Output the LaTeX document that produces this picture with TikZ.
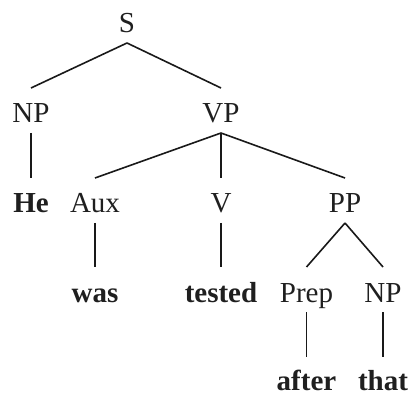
\documentclass[tikz,border=0pt]{standalone}
\usepackage{fontspec}
\setmainfont{Liberation Serif}
\begin{document}
\begin{tikzpicture}[x=1pt,y=1pt,
  lab/.style={anchor=base,inner sep=0pt,font=\fontsize{29}{30}\selectfont,text=black!88},
  word/.style={lab,font=\fontsize{29}{30}\selectfont\bfseries},
  edge/.style={line width=1.6pt,black!90}]
\useasboundingbox (0,0) rectangle (411,396);
% baselines: 33,123,213,302,392 px from top
\node[lab] (S) at (127,363) {S};
\node[lab] (NP1) at (31,273) {NP};
\node[lab] (VP) at (221,273) {VP};
\node[word] (He) at (31,183) {He};
\node[lab] (Aux) at (95,183) {Aux};
\node[lab] (V) at (221,183) {V};
\node[lab] (PP) at (345,183) {PP};
\node[word] (was) at (95,94) {was};
\node[word] (tested) at (221,94) {tested};
\node[lab] (Prep) at (306.5,94) {Prep};
\node[lab] (NP2) at (383,94) {NP};
\node[word] (after) at (306.5,6) {after};
\node[word] (that) at (383,6) {that};
\foreach \p/\c in {S/NP1,S/VP,NP1/He,VP/Aux,VP/V,VP/PP,Aux/was,V/tested,PP/Prep,PP/NP2}
  \draw[edge] ([yshift=-10pt]\p.base) -- ([yshift=35pt]\c.base);
\foreach \p/\c in {Prep/after,NP2/that}
  \draw[edge] ([yshift=-10pt]\p.base) -- ([yshift=33pt]\c.base);
\end{tikzpicture}
\end{document}
